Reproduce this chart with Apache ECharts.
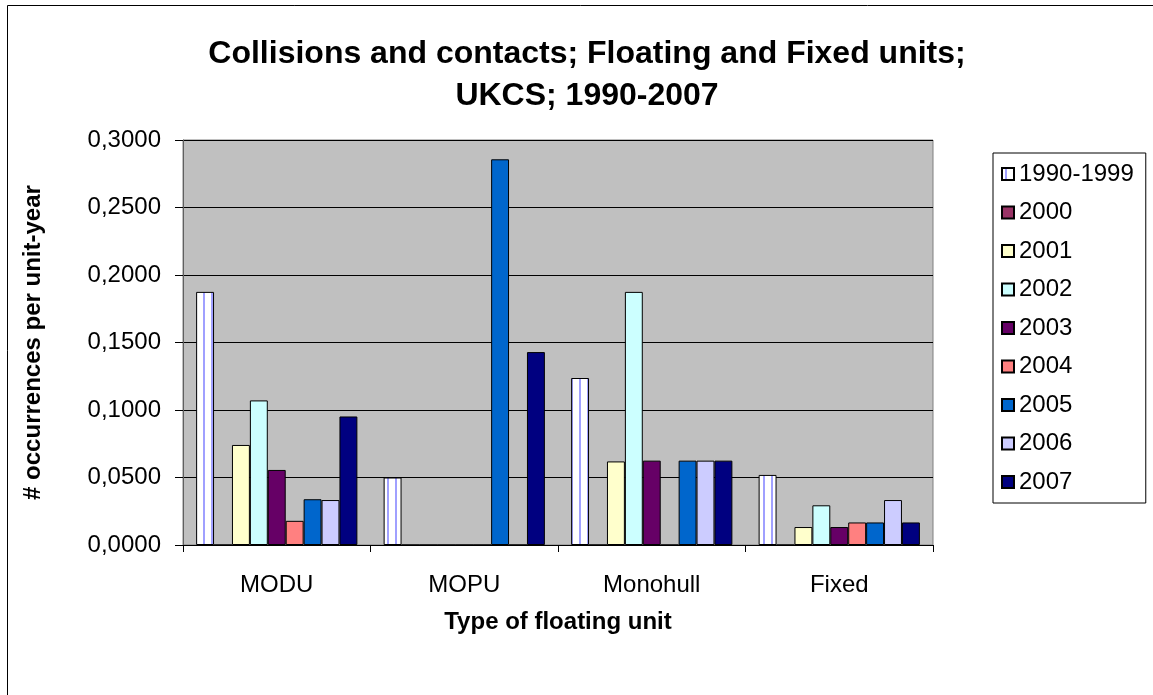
<!DOCTYPE html>
<html>
<head>
<meta charset="utf-8">
<script src="https://cdn.jsdelivr.net/npm/echarts@6/dist/echarts.min.js"></script>
<style>
  html, body { margin: 0; padding: 0; background: #fff; }
  #chart { width: 1153px; height: 695px; }
</style>
</head>
<body>
<div id="chart"></div>
<script>
// categories + values per year
const categories = ['MODU', 'MOPU', 'Monohull', 'Fixed']
const years = ['1990-1999', '2000', '2001', '2002', '2003', '2004', '2005', '2006', '2007']
const v1990_1999 = [0.1875, 0.0500, 0.1237, 0.0519]
const v2000 = [0, 0, 0, 0]
const v2001 = [0.0741, 0, 0.0619, 0.0133]
const v2002 = [0.1071, 0, 0.1875, 0.0294]
const v2003 = [0.0556, 0, 0.0625, 0.0133]
const v2004 = [0.0179, 0, 0, 0.0167]
const v2005 = [0.0339, 0.2857, 0.0625, 0.0167]
const v2006 = [0.0333, 0, 0.0625, 0.0333]
const v2007 = [0.0952, 0.1429, 0.0625, 0.0167]
const yTicks = [0, 0.05, 0.1, 0.15, 0.2, 0.25, 0.3]

const values = [v1990_1999, v2000, v2001, v2002, v2003, v2004, v2005, v2006, v2007]

// 1990-1999 bars: white with thin blue vertical stripes
const stripe = document.createElement('canvas')
stripe.width = 8
stripe.height = 4
const sctx = stripe.getContext('2d')
sctx.fillStyle = '#ffffff'
sctx.fillRect(0, 0, 8, 4)
sctx.fillStyle = '#a0a0ff'
sctx.fillRect(3, 0, 2, 4)

const colors = [
  { image: stripe, repeat: 'repeat' },
  '#993366', '#ffffcc', '#ccffff', '#660066',
  '#ff8080', '#0066cc', '#ccccff', '#000080'
]

const font = 'Liberation Sans, Arial, sans-serif'
const fmt = v => v.toFixed(4).replace('.', ',')

let myChart = echarts.init(document.getElementById('chart'))

const series = years.map((name, i) => ({
  name: name,
  type: 'bar',
  data: values[i],
  barGap: '0%',
  barCategoryGap: '14%',
  itemStyle: { color: colors[i], borderColor: '#000', borderWidth: 1 }
}))

myChart.setOption({
  animation: false,
  textStyle: { fontFamily: font },
  title: {
    text: 'Collisions and contacts; Floating and Fixed units;\nUKCS; 1990-2007',
    left: 582,
    top: 28,
    textAlign: 'center',
    textStyle: { fontFamily: font, fontSize: 32, fontWeight: 'bold', color: '#000', lineHeight: 42 }
  },
  legend: {
    orient: 'vertical',
    left: 993,
    top: 153,
    padding: [9, 12, 9, 8],
    itemWidth: 12,
    itemHeight: 12,
    itemGap: 14.5,
    borderColor: '#000',
    borderWidth: 1,
    icon: 'rect',
    textStyle: { fontFamily: font, fontSize: 24, color: '#000', lineHeight: 24 },
    data: years
  },
  grid: {
    left: 183,
    right: 220,
    top: 140,
    bottom: 150,
    show: true,
    backgroundColor: '#c0c0c0',
    borderColor: '#808080',
    borderWidth: 1
  },
  xAxis: {
    type: 'category',
    data: categories,
    name: 'Type of floating unit',
    nameLocation: 'middle',
    nameGap: 65,
    nameTextStyle: { fontFamily: font, fontSize: 24, fontWeight: 'bold', color: '#000' },
    axisLine: { lineStyle: { color: '#000', width: 1 } },
    axisTick: { show: true, length: 7, lineStyle: { color: '#000' } },
    axisLabel: { margin: 28, fontSize: 24, color: '#000', fontFamily: font }
  },
  yAxis: {
    type: 'value',
    min: yTicks[0],
    max: yTicks[yTicks.length - 1],
    interval: 0.05,
    name: '# occurrences per unit-year',
    nameLocation: 'middle',
    nameRotate: 90,
    nameGap: 138,
    nameTextStyle: { fontFamily: font, fontSize: 24, fontWeight: 'bold', color: '#000' },
    axisLine: { show: true, lineStyle: { color: '#606060', width: 1 } },
    axisTick: { show: true, length: 8, lineStyle: { color: '#000' } },
    axisLabel: { margin: 22, fontSize: 24, color: '#000', fontFamily: font, formatter: fmt },
    splitLine: { show: true, lineStyle: { color: '#000', width: 1 } }
  },
  graphic: [
    {
      type: 'rect',
      shape: { x: 7.5, y: 5.5, width: 1300, height: 900 },
      style: { fill: 'none', stroke: '#000', lineWidth: 1 },
      silent: true
    }
  ],
  series: series
})
</script>
</body>
</html>
